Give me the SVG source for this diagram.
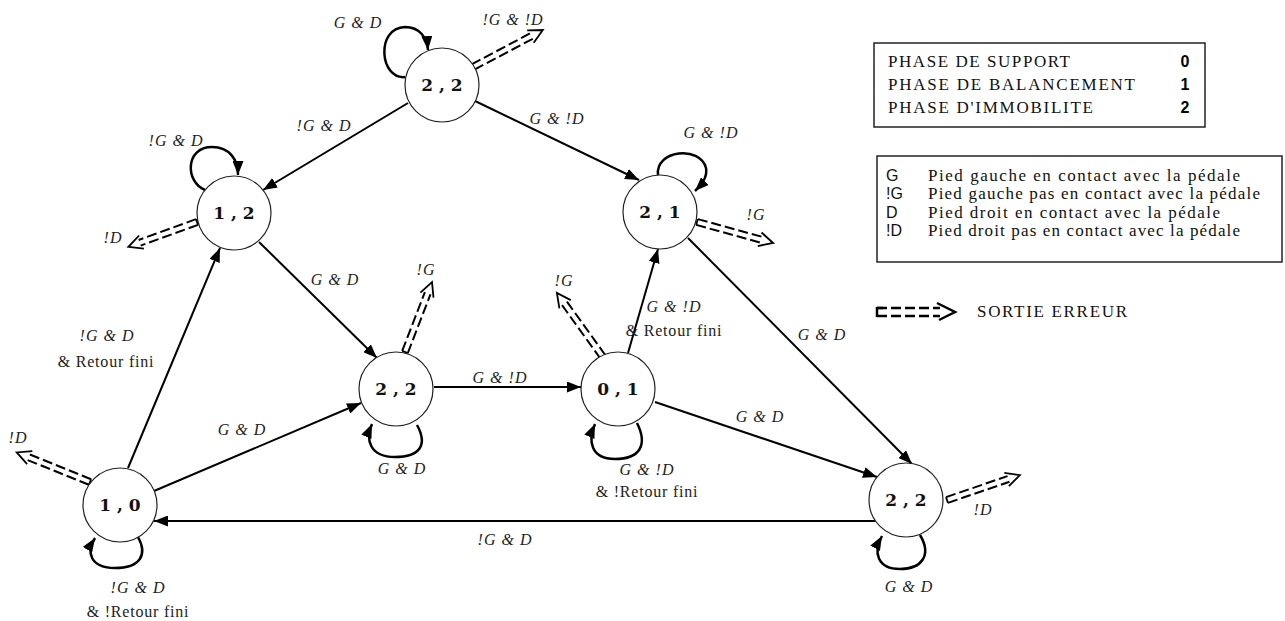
<svg xmlns="http://www.w3.org/2000/svg" width="1285" height="621" viewBox="0 0 1285 621">
<style>
.bg{fill:#fff}
.node circle{fill:#fff;stroke:#222;stroke-width:1.2}
.node text{font-family:"DejaVu Serif",serif;font-weight:bold;font-size:17px;text-anchor:middle;fill:#111}
.edge{fill:none;stroke:#000;stroke-width:2;marker-end:url(#ah)}
.loop{fill:none;stroke:#000;stroke-width:2.5;marker-end:url(#ah)}
.errl{fill:none;stroke:#000;stroke-width:2;stroke-dasharray:10 4}
.errh{fill:none;stroke:#000;stroke-width:1.8}
.lbl{font-family:"Liberation Serif","Times New Roman",serif;font-style:italic;font-size:16px;letter-spacing:1px;text-anchor:middle;fill:#222}
.lblu{font-family:"Liberation Serif","Times New Roman",serif;font-size:16px;letter-spacing:0.8px;text-anchor:middle;fill:#222}
.leg{font-family:"Liberation Serif","Times New Roman",serif;font-size:17px;fill:#111}
.legs{font-family:"Liberation Sans",sans-serif;font-size:16px;fill:#111}
.num{font-family:"Liberation Sans",sans-serif;font-weight:bold;font-size:16px;text-anchor:middle;fill:#000}
.box{fill:none;stroke:#222;stroke-width:1.5}
</style>
<defs>
<marker id="ah" markerUnits="userSpaceOnUse" markerWidth="14" markerHeight="11" refX="14" refY="5.5" orient="auto">
<path d="M0,0 L14,5.5 L0,11 z" fill="#000"/>
</marker>
</defs>
<rect class="bg" x="0" y="0" width="1285" height="621"/>

<g id="connectors">
<path class="edge" d="M408,103 L263,190"/>
<path class="edge" d="M473,100 L639,180"/>
<path class="edge" d="M259,242 L377,358"/>
<path class="edge" d="M434,387 L581,387"/>
<path class="edge" d="M628,353 L658,249"/>
<path class="edge" d="M655,402 L877,477"/>
<path class="edge" d="M688,238 L912,464"/>
<path class="edge" d="M128,468 L220,248"/>
<path class="edge" d="M154,491 L361,403"/>
<path class="edge" d="M875,521 L154,521"/>
<path class="loop" d="M405,77 C380,80 375,28 405,27 C420,27 427,38 428,50"/>
<path class="loop" d="M205,190 C185,182 185,147 212,147 C230,147 238,160 238,175"/>
<path class="loop" d="M658,175 C655,150 700,145 706,168 C708,178 700,186 695,191"/>
<path class="loop" d="M417,425 C428,445 420,457 395,457 C370,457 365,440 372,424"/>
<path class="loop" d="M637,423 C648,445 640,459 615,459 C590,459 588,440 595,424"/>
<path class="loop" d="M138,537 C148,555 140,568 115,568 C90,568 86,552 95,538"/>
<path class="loop" d="M920,535 C932,555 922,569 900,569 C877,569 873,552 882,536"/>
<g transform="translate(473,67) rotate(-27.9)"><path class="errl" d="M0,-3 H67 M0,3 H67"/><path class="errh" d="M0,-3 V3 M65,-7 L79,0 L65,7"/></g>
<g transform="translate(197,222) rotate(160.1)"><path class="errl" d="M0,-3 H61 M0,3 H61"/><path class="errh" d="M0,-3 V3 M59,-7 L73,0 L59,7"/></g>
<g transform="translate(697,222) rotate(15.4)"><path class="errl" d="M0,-3 H67 M0,3 H67"/><path class="errh" d="M0,-3 V3 M65,-7 L79,0 L65,7"/></g>
<g transform="translate(405,352) rotate(-68.9)"><path class="errl" d="M0,-3 H63 M0,3 H63"/><path class="errh" d="M0,-3 V3 M61,-7 L75,0 L61,7"/></g>
<g transform="translate(603,357) rotate(-125.7)"><path class="errl" d="M0,-3 H67 M0,3 H67"/><path class="errh" d="M0,-3 V3 M65,-7 L79,0 L65,7"/></g>
<g transform="translate(90,482) rotate(-158)"><path class="errl" d="M0,-3 H67 M0,3 H67"/><path class="errh" d="M0,-3 V3 M65,-7 L79,0 L65,7"/></g>
<g transform="translate(947,500) rotate(-18.9)"><path class="errl" d="M0,-3 H65 M0,3 H65"/><path class="errh" d="M0,-3 V3 M63,-7 L77,0 L63,7"/></g>
</g>

<g id="labels">
<text class="lbl" x="324" y="131">!G &amp; D</text>
<text class="lbl" x="557" y="124">G &amp; !D</text>
<text class="lbl" x="358" y="28">G &amp; D</text>
<text class="lbl" x="513" y="25">!G &amp; !D</text>
<text class="lbl" x="176" y="146">!G &amp; D</text>
<text class="lbl" x="113" y="243">!D</text>
<text class="lbl" x="335" y="285">G &amp; D</text>
<text class="lbl" x="711" y="138">G &amp; !D</text>
<text class="lbl" x="756" y="220">!G</text>
<text class="lbl" x="426" y="275">!G</text>
<text class="lbl" x="402" y="474">G &amp; D</text>
<text class="lbl" x="500" y="383">G &amp; !D</text>
<text class="lbl" x="564" y="286">!G</text>
<text class="lbl" x="674" y="312">G &amp; !D</text>
<text class="lblu" x="674" y="336">&amp; Retour fini</text>
<text class="lbl" x="647" y="475">G &amp; !D</text>
<text class="lblu" x="647" y="497">&amp; !Retour fini</text>
<text class="lbl" x="760" y="422">G &amp; D</text>
<text class="lbl" x="822" y="340">G &amp; D</text>
<text class="lbl" x="107" y="341">!G &amp; D</text>
<text class="lblu" x="106" y="367">&amp; Retour fini</text>
<text class="lbl" x="242" y="435">G &amp; D</text>
<text class="lbl" x="18" y="443">!D</text>
<text class="lbl" x="138" y="593">!G &amp; D</text>
<text class="lblu" x="138" y="617">&amp; !Retour fini</text>
<text class="lbl" x="505" y="545">!G &amp; D</text>
<text class="lbl" x="909" y="592">G &amp; D</text>
<text class="lbl" x="983" y="515">!D</text>
</g>

<g id="n_top22" class="node"><circle cx="442" cy="85" r="37"/><text x="442" y="91">2 , 2</text></g>
<g id="n_12" class="node"><circle cx="234" cy="213" r="37"/><text x="234" y="219">1 , 2</text></g>
<g id="n_21" class="node"><circle cx="660" cy="212" r="37"/><text x="660" y="218">2 , 1</text></g>
<g id="n_mid22" class="node"><circle cx="396" cy="389" r="37"/><text x="396" y="395">2 , 2</text></g>
<g id="n_01" class="node"><circle cx="618" cy="389" r="37"/><text x="618" y="395">0 , 1</text></g>
<g id="n_10" class="node"><circle cx="120" cy="505" r="37"/><text x="120" y="511">1 , 0</text></g>
<g id="n_br22" class="node"><circle cx="906" cy="500" r="37"/><text x="906" y="506">2 , 2</text></g>

<g id="legend_phases">
<rect class="box" x="874" y="43" width="331" height="84"/>
<text class="leg" x="888" y="67" textLength="182" lengthAdjust="spacing">PHASE DE SUPPORT</text>
<text class="leg" x="888" y="90" textLength="247" lengthAdjust="spacing">PHASE DE BALANCEMENT</text>
<text class="leg" x="888" y="113" textLength="205" lengthAdjust="spacing" fill="#333">PHASE D'IMMOBILITE</text>
<text class="num" x="1185" y="67">0</text>
<text class="num" x="1185" y="90">1</text>
<text class="num" x="1185" y="113">2</text>
</g>

<g id="legend_symbols">
<rect class="box" x="877" y="156" width="405" height="106"/>
<text class="legs" x="886" y="181">G</text>
<text class="legs" x="886" y="199">!G</text>
<text class="legs" x="886" y="218">D</text>
<text class="legs" x="886" y="236">!D</text>
<text class="leg" x="928" y="181" textLength="312" lengthAdjust="spacing">Pied gauche en contact avec la pédale</text>
<text class="leg" x="928" y="199" textLength="332" lengthAdjust="spacing">Pied gauche pas en contact avec la pédale</text>
<text class="leg" x="928" y="218" textLength="292" lengthAdjust="spacing">Pied droit en contact avec la pédale</text>
<text class="leg" x="928" y="236" textLength="312" lengthAdjust="spacing">Pied droit pas en contact avec la pédale</text>
</g>

<g id="legend_error">
<g transform="translate(877,312)"><path class="errl" d="M0,-4 H63 M0,4 H63" style="stroke-width:2.5"/><path class="errh" d="M0,-5 V5 M0,-4 H6 M60,-9 L78,0 L62,8" style="stroke-width:2.5"/></g>
<text class="leg" x="977" y="317" textLength="150" lengthAdjust="spacing">SORTIE ERREUR</text>
</g>
</svg>
